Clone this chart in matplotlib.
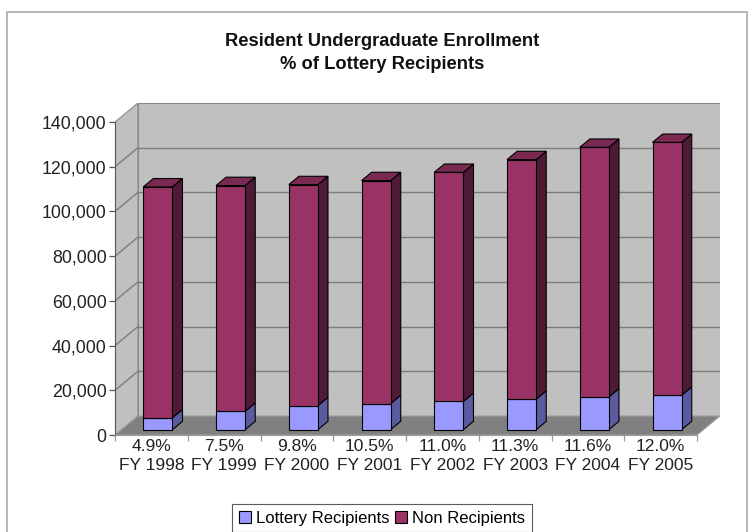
import matplotlib
matplotlib.use("Agg")
import matplotlib.pyplot as plt
from matplotlib.patches import Polygon, Rectangle, Patch
from matplotlib.ticker import FuncFormatter

plt.rcParams['font.family'] = ['Liberation Sans', 'DejaVu Sans']

# Enrollment data
years = ["FY 1998", "FY 1999", "FY 2000", "FY 2001", "FY 2002", "FY 2003", "FY 2004", "FY 2005"]
pct_labels = ["4.9%", "7.5%", "9.8%", "10.5%", "11.0%", "11.3%", "11.6%", "12.0%"]
lottery = [5320, 8190, 10740, 11700, 12660, 13650, 14650, 15420]
non_recipients = [103280, 101010, 98860, 99700, 102440, 107150, 111650, 113080]
y_ticks = [0, 20000, 40000, 60000, 80000, 100000, 120000, 140000]

W, H = 749, 532
fig = plt.figure(figsize=(W / 100, H / 100), dpi=100)
fig.patch.set_facecolor('white')

# chart border
fig.add_artist(Rectangle((7 / W, -0.05), (747 - 7) / W, (H - 12) / H + 0.05,
                         transform=fig.transFigure, fill=False,
                         edgecolor='#a8a8a8', lw=1.2))

fig.text(382 / W, (H - 53) / H,
         "Resident Undergraduate Enrollment\n% of Lottery Recipients",
         ha='center', va='center', fontsize=13.2, fontweight='bold',
         linespacing=1.4, color='#111111')

ax = fig.add_axes([115 / W, (H - 435) / H, (720 - 115) / W, (435 - 103) / H])
n = len(years)
ymax = 140000
DX = 0.316          # oblique depth offset, category units
DY = 8500           # oblique depth offset, value units
ax.set_xlim(0, n + DX)
ax.set_ylim(0, ymax + DY)
ax.set_facecolor('none')

wall = '#c0c0c0'
floor = '#808080'
grid = '#7c7c7c'

# side wall, back wall, floor
ax.add_patch(Polygon([(0, 0), (DX, DY), (DX, ymax + DY), (0, ymax)], closed=True,
                     facecolor=wall, edgecolor='#8a8a8a', lw=0.8, zorder=0))
ax.add_patch(Polygon([(DX, DY), (n + DX, DY), (n + DX, ymax + DY), (DX, ymax + DY)],
                     closed=True, facecolor=wall, edgecolor='#8a8a8a', lw=0.8, zorder=0))
ax.add_patch(Polygon([(0, 0), (n, 0), (n + DX, DY), (DX, DY)], closed=True,
                     facecolor=floor, edgecolor='#a0a0a0', lw=0.8, zorder=1))

for v in y_ticks[1:-1]:
    ax.plot([DX, n + DX], [v + DY, v + DY], color=grid, lw=1.0, zorder=1)
    ax.plot([0, DX], [v, v + DY], color=grid, lw=1.0, zorder=1)

# 3-D style stacked columns
Z0, Z1 = 0.28, 0.72
bw = 0.40
lot_front, lot_side = '#9999ff', '#5a5a9e'
non_front, non_side, non_top = '#993366', '#4f1a35', '#7a2952'


def side_face(xr, b, t, color):
    return Polygon([(xr + Z0 * DX, b + Z0 * DY), (xr + Z1 * DX, b + Z1 * DY),
                    (xr + Z1 * DX, t + Z1 * DY), (xr + Z0 * DX, t + Z0 * DY)],
                   closed=True, facecolor=color, edgecolor='black', lw=0.8, zorder=3)


centers = [i + 0.5 for i in range(n)]
xs = [c + Z0 * DX for c in centers]
ax.bar(xs, lottery, width=bw, bottom=Z0 * DY, color=lot_front,
       edgecolor='black', lw=0.8, zorder=4)
ax.bar(xs, non_recipients, width=bw, bottom=[Z0 * DY + l for l in lottery],
       color=non_front, edgecolor='black', lw=0.8, zorder=4)

for c, l, nr in zip(centers, lottery, non_recipients):
    xl, xr = c - bw / 2, c + bw / 2
    ax.add_patch(side_face(xr, 0, l, lot_side))
    ax.add_patch(side_face(xr, l, l + nr, non_side))
    t = l + nr
    ax.add_patch(Polygon([(xl + Z0 * DX, t + Z0 * DY), (xr + Z0 * DX, t + Z0 * DY),
                          (xr + Z1 * DX, t + Z1 * DY), (xl + Z1 * DX, t + Z1 * DY)],
                         closed=True, facecolor=non_top, edgecolor='black',
                         lw=0.8, zorder=3))

# axes
for s in ['top', 'right']:
    ax.spines[s].set_visible(False)
ax.spines['left'].set_bounds(0, ymax)
ax.spines['bottom'].set_bounds(0, n)
ax.spines['left'].set_color('#555555')
ax.spines['bottom'].set_color('#9a9a9a')
ax.spines['left'].set_zorder(2)
ax.spines['bottom'].set_zorder(2)

ax.set_yticks(y_ticks)
ax.yaxis.set_major_formatter(FuncFormatter(lambda v, p: f"{int(v):,}"))
ax.tick_params(axis='y', direction='out', length=4, width=0.9, color='#555555',
               labelsize=12.8, pad=2, labelcolor='#222222')

ax.set_xticks(range(n + 1))
ax.set_xticklabels([])
ax.set_xticks(centers, minor=True)
ax.set_xticklabels([f"{p}\n{y}" for p, y in zip(pct_labels, years)], minor=True)
ax.tick_params(axis='x', which='major', direction='out', length=4, width=0.9,
               color='#9a9a9a')
ax.tick_params(axis='x', which='minor', length=0, labelsize=12.5, pad=3,
               labelcolor='#222222')
for lbl in ax.get_xticklabels(minor=True):
    lbl.set_linespacing(1.35)

handles = [Patch(facecolor=lot_front, edgecolor='black', lw=0.8, label='Lottery Recipients'),
           Patch(facecolor=non_front, edgecolor='black', lw=0.8, label='Non Recipients')]
leg = fig.legend(handles=handles, loc='upper center', bbox_to_anchor=(382 / W, (H - 504) / H),
                 ncol=2, frameon=True, fancybox=False, fontsize=12,
                 handlelength=0.7, handleheight=0.7, handletextpad=0.3,
                 columnspacing=0.35, borderpad=0.4, borderaxespad=0)
leg.get_frame().set_edgecolor('#333333')
leg.get_frame().set_linewidth(0.8)

fig.savefig("out.png", dpi=100)
